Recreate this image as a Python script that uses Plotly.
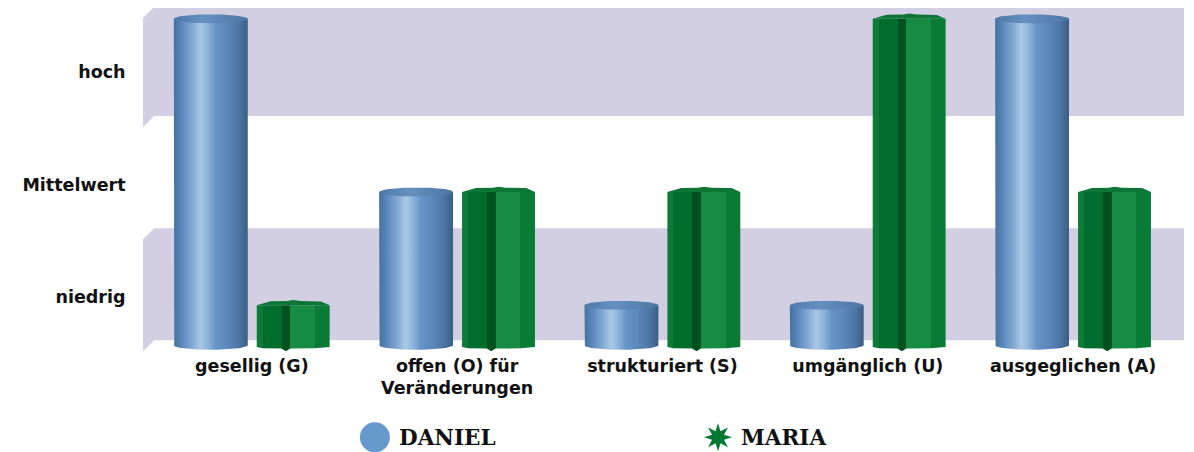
import numpy as np
import plotly.graph_objects as go

# ---------------- data ----------------
CATEGORIES = ["gesellig (G)", "offen (O) für<br>Veränderungen", "strukturiert (S)",
              "umgänglich (U)", "ausgeglichen (A)"]
LEVEL_LABELS = ["niedrig", "Mittelwert", "hoch"]
LEVEL_VALUES = [14.2, 47.3, 80.8]
SERIES_NAMES = ["DANIEL", "MARIA"]
DANIEL = [96.5, 45.3, 11.8, 11.8, 96.5]
MARIA = [11.8, 45.3, 45.3, 96.5, 45.3]

# ---------------- geometry / style ----------------
PAGE_OFF = 8                      # default body margin of the html page
W, H = 1194 - PAGE_OFF, 452 - PAGE_OFF
PX_PER_UNIT = 3.38
X_RANGE = [-0.53, 4.54]
Y_RANGE = [-2.0, 100.0 - 1.0 / PX_PER_UNIT]
M_L, M_R, M_T = 143.2 - PAGE_OFF, 10.2, 0.0
PLOT_H = (Y_RANGE[1] - Y_RANGE[0]) * PX_PER_UNIT
M_B = H - M_T - PLOT_H
PLOT_W = W - M_L - M_R

D_OFF, D_W = -0.38, 0.36     # Daniel bar offset / width (category units)
M_OFF, M_W = 0.024, 0.355    # Maria bar offset / width
ELL = 1.33                   # cylinder ellipse semi-height (y units)

BAND_COLOR = "#d2cfe2"
CYL_SCALE = [[0, "#46719f"], [0.1, "#5986ba"], [0.22, "#79a2cf"], [0.36, "#aac8e4"],
             [0.46, "#8db3d9"], [0.56, "#6895c8"], [0.72, "#5c88ba"], [0.88, "#4c76a4"],
             [1, "#3c5d82"]]
CYL_TOP_SCALE = [[0, "#5079a8"], [0.4, "#6690c0"], [1, "#4d76a3"]]
STAR_SCALE = [[0, "#0c7b37"], [0.08, "#0c7b37"], [0.08, "#006d2c"], [0.34, "#006d2c"],
              [0.34, "#004f1e"], [0.46, "#00531f"], [0.46, "#158b43"], [0.80, "#158b43"],
              [0.80, "#0a7b37"], [1, "#0a7b37"]]
STAR_TOP = "#0d7636"
LEG_BLUE = "#6699cc"
LEG_GREEN = "#007a33"

fig = go.Figure()

# background wall bands (3D look with slanted left edge)
bands = [(67.75, 100.0), (1.48, 34.6)]
sl_x = 0.054   # slant in x units
sl_y = 3.25    # slant in y units
for lo, hi in bands:
    xb0 = X_RANGE[0] + sl_x
    path = (f"M {X_RANGE[0]},{hi - sl_y} L {xb0},{hi} L {X_RANGE[1]},{hi} "
            f"L {X_RANGE[1]},{lo} L {xb0},{lo} L {X_RANGE[0]},{lo - sl_y} Z")
    fig.add_shape(type="path", path=path, xref="x", yref="y",
                  fillcolor=BAND_COLOR, line=dict(width=0), layer="below")

# Daniel cylinders
t_bot = np.linspace(np.pi, 2 * np.pi, 40)
t_full = np.linspace(0, 2 * np.pi, 80)
for i, v in enumerate(DANIEL):
    x0 = i + D_OFF
    a = D_W / 2
    cx = x0 + a
    xs = [x0, x0] + list(cx + a * np.cos(t_bot)) + [x0 + D_W, x0 + D_W, x0]
    ys = [v, 0] + list(ELL * np.sin(t_bot)) + [0, v, v]
    fig.add_trace(go.Scatter(x=xs, y=ys, mode="lines", fill="toself",
                             line=dict(width=0), hoverinfo="skip", showlegend=False,
                             name=SERIES_NAMES[0],
                             fillgradient=dict(type="horizontal", colorscale=CYL_SCALE)))
    fig.add_trace(go.Scatter(x=cx + a * np.cos(t_full), y=v + ELL * np.sin(t_full),
                             mode="lines", fill="toself", line=dict(width=0),
                             hoverinfo="skip", showlegend=False, name=SERIES_NAMES[0],
                             fillgradient=dict(type="horizontal", colorscale=CYL_TOP_SCALE)))

# Maria star prisms
top_f = [0, 0.19, 0.42, 0.5, 0.6, 0.88, 1.0]
top_h = [0, 1.2, 1.25, 1.55, 1.25, 1.15, 0]
bot_f = [1.0, 0.8, 0.46, 0.4, 0.34, 0.08, 0.0]
bot_h = [-0.5, -0.9, -1.0, -1.8, -1.0, -0.9, -0.5]
for i, v in enumerate(MARIA):
    x0 = i + M_OFF
    xs = [x0 + f * M_W for f in top_f] + [x0 + f * M_W for f in bot_f] + [x0]
    ys = [v] * len(top_f) + bot_h + [v]
    fig.add_trace(go.Scatter(x=xs, y=ys, mode="lines", fill="toself",
                             line=dict(width=0), hoverinfo="skip", showlegend=False,
                             name=SERIES_NAMES[1],
                             fillgradient=dict(type="horizontal", colorscale=STAR_SCALE)))
    cxs = [x0 + f * M_W for f in top_f] + [x0 + M_W, x0]
    cys = [v + h for h in top_h] + [v, v]
    fig.add_trace(go.Scatter(x=cxs, y=cys, mode="lines", fill="toself",
                             fillcolor=STAR_TOP, line=dict(width=0),
                             hoverinfo="skip", showlegend=False, name=SERIES_NAMES[1]))


# ---------------- manual legend ----------------
def px_to_paper(px, py):
    """window pixel -> paper coordinate"""
    px -= PAGE_OFF
    py -= PAGE_OFF
    return (px - M_L) / PLOT_W, (M_T + PLOT_H - py) / PLOT_H


lx, ly = px_to_paper(375, 437)
fig.add_shape(type="circle", xref="paper", yref="paper", xsizemode="pixel",
              ysizemode="pixel", xanchor=lx, yanchor=ly, x0=-15, x1=15, y0=-15, y1=15,
              fillcolor=LEG_BLUE, line=dict(width=0))
sx, sy = px_to_paper(718, 437)
pts = []
for k in range(16):
    ang = np.pi / 2 + k * np.pi / 8
    r = 14 if k % 2 == 0 else 6.5
    pts.append((r * np.cos(ang), r * np.sin(ang)))
star_path = "M " + " L ".join(f"{px:.2f},{py:.2f}" for px, py in pts) + " Z"
fig.add_shape(type="path", xref="paper", yref="paper", xsizemode="pixel",
              ysizemode="pixel", xanchor=sx, yanchor=sy, path=star_path,
              fillcolor=LEG_GREEN, line=dict(width=0))
for name, px in zip(SERIES_NAMES, [397, 739]):
    ax, ay = px_to_paper(px, 437)
    fig.add_annotation(x=ax, y=ay, xref="paper", yref="paper", text=name,
                       showarrow=False, xanchor="left", yanchor="middle",
                       font=dict(family="DejaVu Serif", size=21.5, color="#111111",
                                 weight="bold"))

TICK_FONT = dict(family="DejaVu Sans", size=17.5, color="#111111", weight="bold")
fig.update_layout(
    width=W, height=H,
    margin=dict(l=M_L, r=M_R, t=M_T, b=M_B, pad=0, autoexpand=False),
    paper_bgcolor="white", plot_bgcolor="white",
    showlegend=False,
    xaxis=dict(range=X_RANGE, tickmode="array", tickvals=list(range(len(CATEGORIES))),
               ticktext=CATEGORIES, showgrid=False, zeroline=False, showline=False,
               ticks="", ticklabelstandoff=1,
               tickfont=TICK_FONT, fixedrange=True),
    yaxis=dict(range=Y_RANGE, tickmode="array", tickvals=LEVEL_VALUES,
               ticktext=LEVEL_LABELS, showgrid=False, zeroline=False, showline=False,
               ticks="outside", ticklen=13, tickcolor="rgba(0,0,0,0)",
               tickfont=TICK_FONT, fixedrange=True),
)

fig.write_html("out.html")
